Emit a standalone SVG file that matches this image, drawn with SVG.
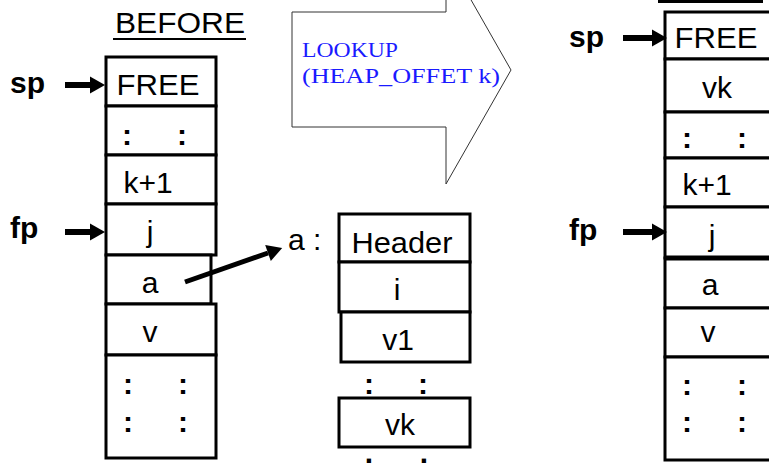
<svg xmlns="http://www.w3.org/2000/svg" width="769" height="472" viewBox="0 0 769 472">
<defs>
<style>
.box{fill:#fff;stroke:#000;stroke-width:3}
.t{font-family:"Liberation Sans",Arial,sans-serif;font-size:30px;fill:#000;text-anchor:middle}
.c{font-family:"Liberation Sans",Arial,sans-serif;font-size:30px;font-weight:bold;fill:#000;text-anchor:middle}
.lbl{font-family:"Liberation Sans",Arial,sans-serif;font-size:30px;font-weight:bold;fill:#000}
.ptr{stroke:#000;stroke-width:6;fill:none;marker-end:url(#ah)}
.look{font-family:"Liberation Serif","Times New Roman",serif;font-size:21px;fill:#1a1aff}
</style>
<marker id="ah" markerUnits="userSpaceOnUse" markerWidth="16" markerHeight="18" refX="0" refY="8.5" orient="auto" overflow="visible">
<path d="M0,0 L15,8.5 L0,17 Z" fill="#000"/>
</marker>
</defs>
<rect width="769" height="472" fill="#fff"/>

<g id="before-title">
<text class="t" x="180" y="33" textLength="130" lengthAdjust="spacingAndGlyphs">BEFORE</text>
<line x1="113" y1="39" x2="246" y2="39" stroke="#000" stroke-width="2"/>
</g>
<g id="after-title">
<line x1="658" y1="1.5" x2="763" y2="1.5" stroke="#000" stroke-width="3"/>
</g>

<g id="lookup">
<path d="M292,12 L446,12 L446,-44 L511,70 L446,184 L446,127 L292,127 Z" fill="#fff" stroke="#333" stroke-width="1"/>
<text class="look" x="302" y="57" textLength="96" lengthAdjust="spacingAndGlyphs">LOOKUP</text>
<text class="look" x="302" y="83" textLength="198" lengthAdjust="spacingAndGlyphs">(HEAP_OFFET k)</text>
</g>

<g id="left-stack">
<rect class="box" x="106" y="57" width="110" height="49"/>
<text class="t" x="158" y="95" textLength="83" lengthAdjust="spacingAndGlyphs">FREE</text>
<rect class="box" x="106" y="106" width="110" height="49"/>
<text class="c" x="127" y="145">:</text><text class="c" x="182" y="145">:</text>
<rect class="box" x="106" y="155" width="110" height="49"/>
<text class="t" x="148" y="193">k+1</text>
<rect class="box" x="106" y="204" width="110" height="51"/>
<text class="t" x="150" y="242">j</text>
<rect class="box" x="106" y="255" width="105" height="49"/>
<text class="t" x="150" y="293">a</text>
<rect class="box" x="106" y="304" width="110" height="51"/>
<text class="t" x="150" y="342">v</text>
<rect class="box" x="106" y="355" width="110" height="103"/>
<text class="c" x="128" y="394">:</text><text class="c" x="183" y="394">:</text>
<text class="c" x="128" y="432">:</text><text class="c" x="183" y="432">:</text>
</g>

<g id="left-sp"><text class="lbl" x="10" y="93">sp</text></g>
<g id="left-fp"><text class="lbl" x="10" y="238">fp</text></g>

<g id="heap-object">
<text class="t" x="288" y="250" style="text-anchor:start">a :</text>
<rect class="box" x="339" y="214" width="131" height="48"/>
<text class="t" x="402" y="253" textLength="101" lengthAdjust="spacingAndGlyphs">Header</text>
<rect class="box" x="339" y="262" width="131" height="50"/>
<text class="t" x="397" y="300">i</text>
<rect class="box" x="341" y="312" width="129" height="50"/>
<text class="t" x="398" y="350">v1</text>
<text class="c" x="369" y="394">:</text><text class="c" x="423" y="394">:</text>
<rect class="box" x="339" y="398" width="131" height="49"/>
<text class="t" x="400" y="435">vk</text>
<text class="c" x="369" y="463">.</text><text class="c" x="424" y="463">.</text>
</g>

<g id="right-stack">
<rect class="box" x="665" y="12" width="110" height="47"/>
<text class="t" x="716" y="48" textLength="83" lengthAdjust="spacingAndGlyphs">FREE</text>
<rect class="box" x="665" y="59" width="110" height="53"/>
<text class="t" x="717" y="98">vk</text>
<rect class="box" x="665" y="112" width="110" height="46"/>
<text class="c" x="687" y="148">:</text><text class="c" x="742" y="148">:</text>
<rect class="box" x="665" y="158" width="110" height="49"/>
<text class="t" x="707" y="195">k+1</text>
<rect class="box" x="665" y="207" width="110" height="51"/>
<text class="t" x="712" y="246">j</text>
<rect class="box" x="665" y="258" width="110" height="50"/>
<line x1="665" y1="258" x2="769" y2="258" stroke="#000" stroke-width="5"/>
<text class="t" x="710" y="295">a</text>
<rect class="box" x="665" y="308" width="110" height="49"/>
<text class="t" x="708" y="342">v</text>
<rect class="box" x="665" y="357" width="110" height="103"/>
<text class="c" x="687" y="395">:</text><text class="c" x="742" y="395">:</text>
<text class="c" x="687" y="432">:</text><text class="c" x="742" y="432">:</text>
</g>

<g id="right-sp"><text class="lbl" x="569" y="47">sp</text></g>
<g id="right-fp"><text class="lbl" x="569" y="240">fp</text></g>

<g id="connectors">
<line class="ptr" x1="65" y1="85" x2="90" y2="85"/>
<line class="ptr" x1="65" y1="232" x2="90" y2="232"/>
<line class="ptr" x1="185" y1="282" x2="268" y2="253" style="stroke-width:5"/>
<line class="ptr" x1="623" y1="38" x2="652" y2="38"/>
<line class="ptr" x1="623" y1="232" x2="652" y2="232"/>
</g>
</svg>
